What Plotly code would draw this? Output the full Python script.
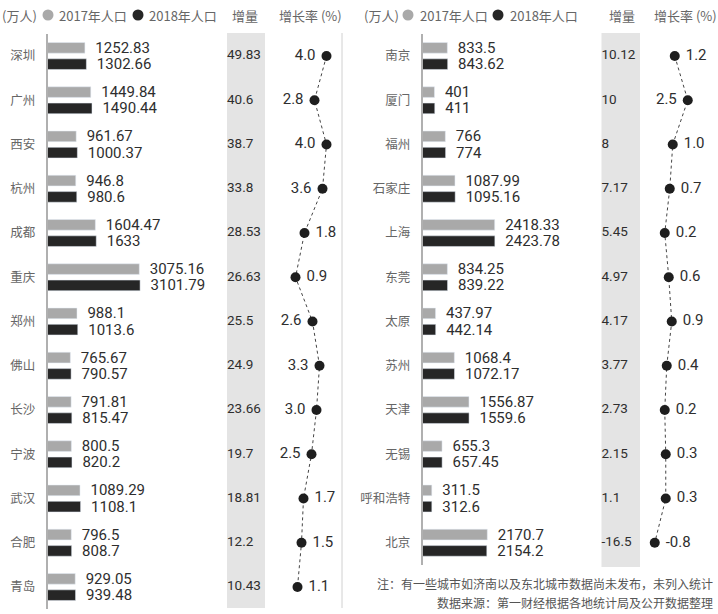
import plotly.graph_objects as go

W, H = 718, 614

# ---------------- data ----------------
left_cities = ["深圳", "广州", "西安", "杭州", "成都", "重庆", "郑州", "佛山", "长沙", "宁波", "武汉", "合肥", "青岛"]
left_2017 = [1252.83, 1449.84, 961.67, 946.8, 1604.47, 3075.16, 988.1, 765.67, 791.81, 800.5, 1089.29, 796.5, 929.05]
left_2018 = [1302.66, 1490.44, 1000.37, 980.6, 1633, 3101.79, 1013.6, 790.57, 815.47, 820.2, 1108.1, 808.7, 939.48]
left_inc = [49.83, 40.6, 38.7, 33.8, 28.53, 26.63, 25.5, 24.9, 23.66, 19.7, 18.81, 12.2, 10.43]
left_rate = [4.0, 2.8, 4.0, 3.6, 1.8, 0.9, 2.6, 3.3, 3.0, 2.5, 1.7, 1.5, 1.1]

right_cities = ["南京", "厦门", "福州", "石家庄", "上海", "东莞", "太原", "苏州", "天津", "无锡", "呼和浩特", "北京"]
right_2017 = [833.5, 401, 766, 1087.99, 2418.33, 834.25, 437.97, 1068.4, 1556.87, 655.3, 311.5, 2170.7]
right_2018 = [843.62, 411, 774, 1095.16, 2423.78, 839.22, 442.14, 1072.17, 1559.6, 657.45, 312.6, 2154.2]
right_inc = [10.12, 10, 8, 7.17, 5.45, 4.97, 4.17, 3.77, 2.73, 2.15, 1.1, -16.5]
right_rate = [1.2, 2.5, 1.0, 0.7, 0.2, 0.6, 0.9, 0.4, 0.2, 0.3, 0.3, -0.8]

series_names = ["2017年人口", "2018年人口"]
col_titles = ["增量", "增长率 (%)"]
unit_label = "(万人)"
notes = ["注：有一些城市如济南以及东北城市数据尚未发布，未列入统计",
         "数据来源：第一财经根据各地统计局及公开数据整理"]

# ---------------- style ----------------
GRAY_BAR = "#a9a9a9"
DARK_BAR = "#262626"
TXT = "#2e2e2e"
LABEL = "#666666"
BAND = "#e4e4e4"
NUM_FONT = "Roboto, Liberation Sans, sans-serif"
CJK_FONT = "Noto Sans CJK SC, sans-serif"
NBSP = "\u00a0"


def fx(x):
    return x / W


def fy(y):
    return 1 - y / H


def fmt(v):
    return f"{v:g}"


def rate_label(v):
    s = f"{v:.1f}"
    return s + NBSP if v >= 2.5 else NBSP + s


PITCH = 44.25
TOP = 33.875

fig = go.Figure()


def add_panel(cities, v17, v18, inc, rate, xb, xi, xr, ya):
    rows = list(range(len(cities)))
    fig.add_trace(go.Bar(
        y=rows, x=v17, orientation="h", marker_color=GRAY_BAR, name=series_names[0],
        text=[NBSP * 2 + fmt(v) for v in v17], textposition="outside", constraintext="none",
        textfont=dict(family=NUM_FONT, size=15, color=TXT), cliponaxis=False,
        xaxis=xb, yaxis=ya, showlegend=False, hoverinfo="skip"))
    fig.add_trace(go.Bar(
        y=rows, x=v18, orientation="h", marker_color=DARK_BAR, name=series_names[1],
        text=[NBSP * 2 + fmt(v) for v in v18], textposition="outside", constraintext="none",
        textfont=dict(family=NUM_FONT, size=15, color=TXT), cliponaxis=False,
        xaxis=xb, yaxis=ya, showlegend=False, hoverinfo="skip"))
    fig.add_trace(go.Scatter(
        y=rows, x=[0] * len(rows), mode="text", text=[fmt(v) for v in inc],
        textposition="middle right", textfont=dict(family=NUM_FONT, size=13.5, color=TXT),
        cliponaxis=False, xaxis=xi, yaxis=ya, showlegend=False, hoverinfo="skip"))
    fig.add_trace(go.Scatter(
        y=rows, x=rate, mode="lines+markers+text", text=[rate_label(v) for v in rate],
        textposition=["middle left" if v >= 2.5 else "middle right" for v in rate],
        textfont=dict(family=NUM_FONT, size=15, color=TXT),
        line=dict(color="#444444", width=1, dash="dot"),
        marker=dict(size=10, color="#1e1e1e"),
        cliponaxis=False, xaxis=xr, yaxis=ya, showlegend=False, hoverinfo="skip"))


add_panel(left_cities, left_2017, left_2018, left_inc, left_rate, "x", "x2", "x3", "y")
add_panel(right_cities, right_2017, right_2018, right_inc, right_rate, "x4", "x5", "x6", "y2")

UNITS_PER_PX = 33.5

hidden = dict(visible=False, showgrid=False, zeroline=False, fixedrange=True)


def yax(n, anchor, bottom):
    return dict(
        domain=[fy(bottom), fy(TOP)], range=[n - 0.5, -0.5], anchor=anchor,
        tickmode="array", tickvals=list(range(n)), showgrid=False, zeroline=False,
        showline=True, linecolor="#b0b0b0", linewidth=1.5, ticks="", ticklabelstandoff=8,
        tickfont=dict(family=CJK_FONT, size=12.5, color=LABEL))


ly = yax(len(left_cities), "x", TOP + PITCH * len(left_cities))
ly["ticktext"] = left_cities
ry = yax(len(right_cities), "x4", TOP + PITCH * len(right_cities))
ry["ticktext"] = right_cities

fig.update_layout(
    width=W, height=H, margin=dict(l=0, r=0, t=0, b=0),
    paper_bgcolor="white", plot_bgcolor="rgba(0,0,0,0)",
    barmode="group", bargap=0.263, bargroupgap=0.35,
    xaxis=dict(domain=[fx(47.5), fx(227)], range=[0, 179.5 * UNITS_PER_PX], anchor="y", **hidden),
    xaxis2=dict(domain=[fx(227), fx(265)], range=[0, 1], anchor="y", **hidden),
    xaxis3=dict(domain=[fx(265), fx(342)], range=[-2.15, 5.55], anchor="y", **hidden),
    xaxis4=dict(domain=[fx(422.5), fx(601)], range=[0, 178.5 * UNITS_PER_PX], anchor="y2", **hidden),
    xaxis5=dict(domain=[fx(601.5), fx(640)], range=[0, 1], anchor="y2", **hidden),
    xaxis6=dict(domain=[fx(640), fx(716)], range=[-2.275, 5.325], anchor="y2", **hidden),
    yaxis=ly, yaxis2=ry,
)

shapes = [
    dict(type="rect", xref="paper", yref="paper", x0=fx(227), x1=fx(265), y0=fy(608), y1=fy(33),
         fillcolor=BAND, line_width=0, layer="below"),
    dict(type="rect", xref="paper", yref="paper", x0=fx(601.5), x1=fx(640), y0=fy(567), y1=fy(33),
         fillcolor=BAND, line_width=0, layer="below"),
    dict(type="line", xref="paper", yref="paper", x0=fx(342), x1=fx(342), y0=fy(608), y1=fy(33),
         line=dict(color="#d0d0d0", width=1), layer="below"),
]
for cx, col in [(48, GRAY_BAR), (138, DARK_BAR), (408, GRAY_BAR), (498, DARK_BAR)]:
    shapes.append(dict(type="circle", xref="paper", yref="paper",
                       x0=fx(cx - 5.5), x1=fx(cx + 5.5), y0=fy(15 + 5.5), y1=fy(15 - 5.5),
                       fillcolor=col, line_width=0))
fig.update_layout(shapes=shapes)

ann = []
hdr = dict(family=CJK_FONT, size=13, color="#666666")
for x0, txt in [(0, unit_label), (57, series_names[0]), (147, series_names[1]), (230, col_titles[0]), (277, col_titles[1]),
                (362, unit_label), (418, series_names[0]), (508, series_names[1]), (607, col_titles[0]), (652, col_titles[1])]:
    ann.append(dict(text=txt, x=fx(x0), y=fy(15), xref="paper", yref="paper", xanchor="left", yanchor="middle",
                    showarrow=False, font=hdr))
for yy, txt in [(583, notes[0]), (602, notes[1])]:
    ann.append(dict(text=txt, x=fx(715), y=fy(yy), xref="paper", yref="paper", xanchor="right", yanchor="middle",
                    showarrow=False, font=dict(family=CJK_FONT, size=12, color="#555555")))
fig.update_layout(annotations=ann)

fig.write_html("out.html")
